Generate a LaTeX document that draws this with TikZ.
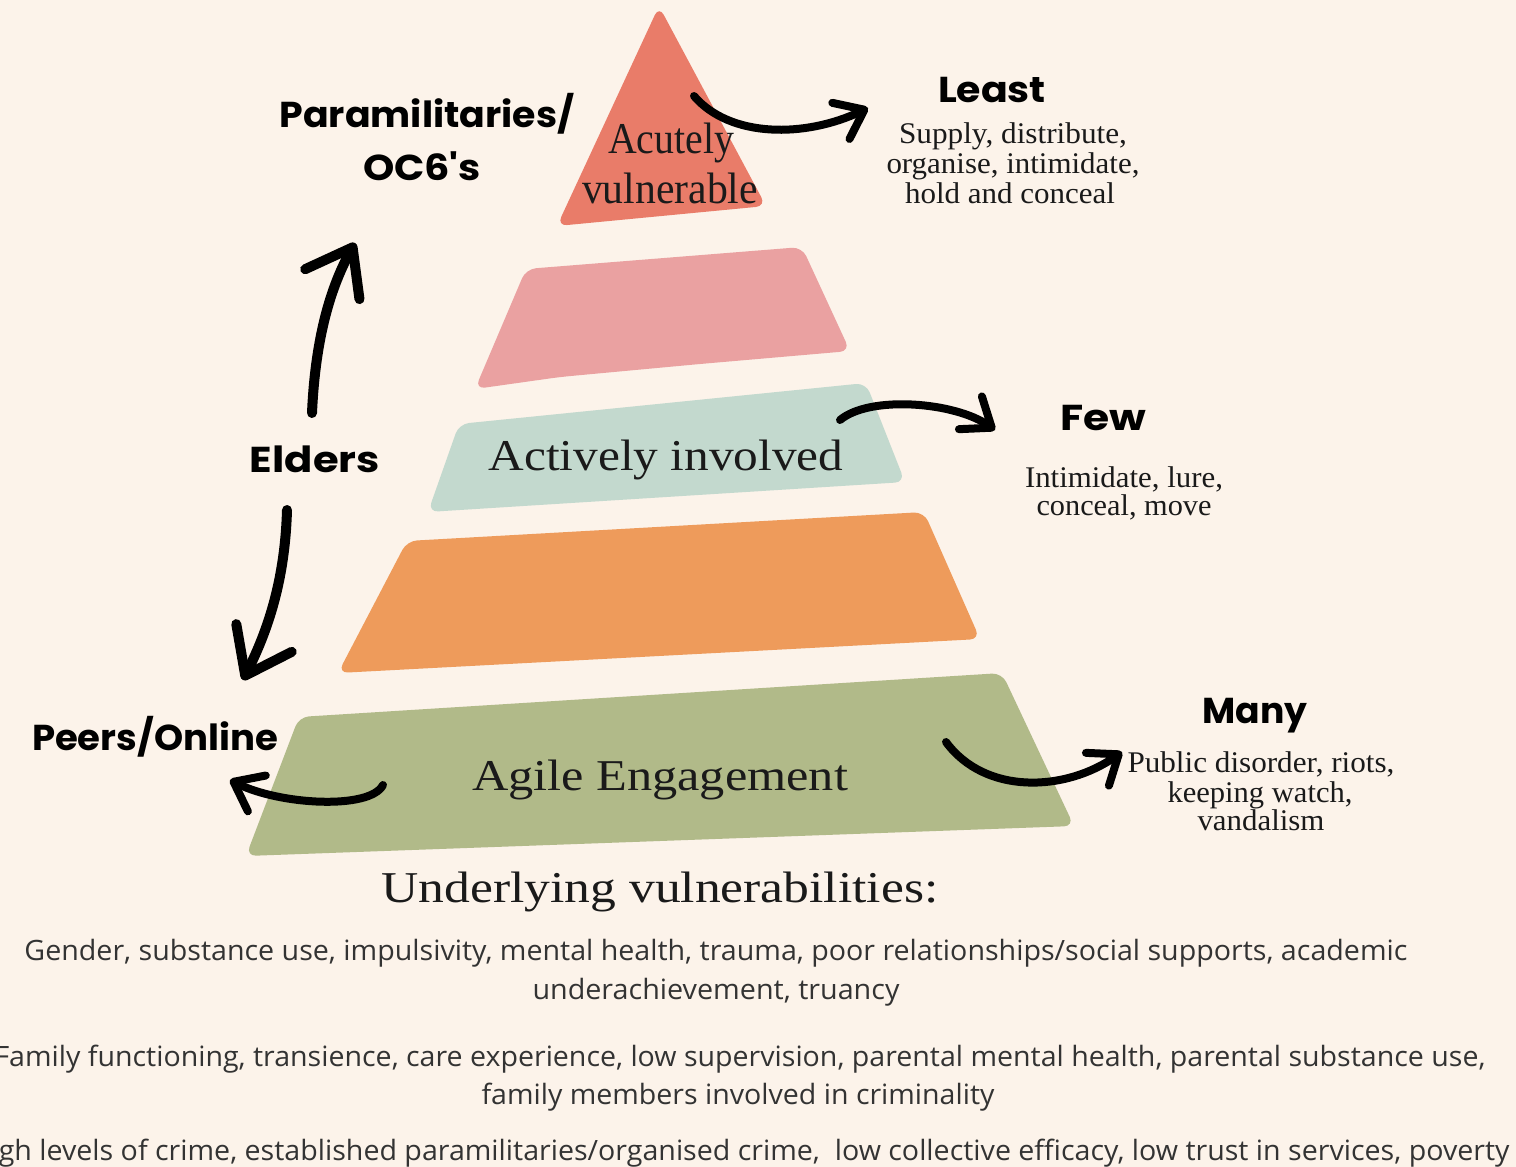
\documentclass[tikz,border=0pt]{standalone}
\usepackage{fontspec}
\usepackage{graphicx}
\setmainfont{Liberation Serif}
\newfontfamily\handfont{Poppins}
\newfontfamily\osans{Open Sans}
\usetikzlibrary{arrows.meta}
\newcommand\fitw[2]{\resizebox{#1}{\height}{#2}}
\definecolor{bgc}{HTML}{FCF3EA}
\definecolor{coralc}{HTML}{E97C69}
\definecolor{pinkc}{HTML}{EAA1A1}
\definecolor{mintc}{HTML}{C3D9CE}
\definecolor{orangec}{HTML}{EE9B5B}
\definecolor{olivec}{HTML}{B1BA89}
\definecolor{inkc}{HTML}{1A1A1A}
\definecolor{grayc}{HTML}{333333}
\begin{document}
\begin{tikzpicture}[x=1pt,y=-1pt,
  layer/.style={rounded corners=10pt},
  hw/.style={font=\handfont\bfseries\fontsize{36}{36}\selectfont, inner sep=0pt, anchor=base, text=black},
  sr/.style={font=\fontsize{30}{30}\selectfont, inner sep=0pt, anchor=base, text=inkc},
  big/.style={font=\fontsize{44}{44}\selectfont, inner sep=0pt, anchor=base, text=inkc},
  os/.style={font=\osans\fontsize{28}{28}\selectfont, inner sep=0pt, anchor=base, text=grayc},
  brush/.style={line width=8pt, line cap=round, -{Straight Barb[length=26pt,width=40pt,round]}},
  brushbig/.style={line width=10pt, line cap=round, -{Straight Barb[length=42pt,width=62pt,round]}}]
\fill[bgc] (0,0) rectangle (1516,1167);
\useasboundingbox (0,0) rectangle (1516,1167);
\begin{scope}
\clip (0,0) rectangle (1516,1167);
% pyramid layers
\fill[coralc, layer] (659,6) -- (766,206) -- (557,226) -- cycle;
\fill[pinkc, layer] (526,269) -- (802,247) -- (850,351) -- (700,364) -- (560,377) -- (475,389) -- cycle;
\fill[mintc, layer] (459,424) -- (866,383) -- (905,482) -- (428,512) -- cycle;
\fill[orangec, layer] (407,541) -- (924,512) -- (980,639) -- (338,673) -- cycle;
\fill[olivec, layer] (299,717) -- (1002,673) -- (1074,826) -- (246,856) -- cycle;

% layer labels
\node[big] (acute1) at (671,153) {\fitw{126pt}{Acutely}};
\node[big] (acute2) at (670,203) {\fitw{176pt}{vulnerable}};
\node[big] (active) at (666,470) {\fitw{355pt}{Actively involved}};
\node[big] (agile) at (660,790) {\fitw{376pt}{Agile Engagement}};
\node[big] (under) at (660,902) {\fitw{557pt}{Underlying vulnerabilities:}};

% handwritten labels
\node[hw] (para) at (427,127) {\fitw{295pt}{Paramilitaries/}};
\node[hw] (ocg) at (422,180) {\fitw{118pt}{OC6's}};
\node[hw] (least) at (992,102) {\fitw{108pt}{Least}};
\node[hw] (few) at (1103,430) {\fitw{86pt}{Few}};
\node[hw] (many) at (1255,723) {\fitw{105pt}{Many}};
\node[hw] (elders) at (315,472) {\fitw{130pt}{Elders}};
\node[hw] (peers) at (155,750) {\fitw{246pt}{Peers/Online}};

% right descriptions
\node[sr] (l1) at (1013,143) {\fitw{228pt}{Supply, distribute,}};
\node[sr] (l2) at (1013,173) {\fitw{253pt}{organise, intimidate,}};
\node[sr] (l3) at (1010,203) {\fitw{210pt}{hold and conceal}};
\node[sr] (f1) at (1124,487) {\fitw{198pt}{Intimidate, lure,}};
\node[sr] (f2) at (1124,515) {\fitw{175pt}{conceal, move}};
\node[sr] (m1) at (1261,772) {\fitw{267pt}{Public disorder, riots,}};
\node[sr] (m2) at (1260,802) {\fitw{185pt}{keeping watch,}};
\node[sr] (m3) at (1261,830) {\fitw{127pt}{vandalism}};

% bottom text
\node[os] (b1) at (716,960) {\fitw{1383pt}{Gender, substance use, impulsivity, mental health, trauma, poor relationships/social supports, academic}};
\node[os] (b2) at (716,999) {\fitw{367pt}{underachievement, truancy}};
\node[os] (b3) at (740,1066) {\fitw{1491pt}{Family functioning, transience, care experience, low supervision, parental mental health, parental substance use,}};
\node[os] (b4) at (738,1104) {\fitw{513pt}{family members involved in criminality}};
\node[os] (b5) at (740,1160) {\fitw{1539pt}{High levels of crime, established paramilitaries/organised crime,\ \ low collective efficacy, low trust in services, poverty}};

% arrow end points
\coordinate (a1s) at (694,96);
\coordinate (a1e) at (868,108);
\coordinate (a2s) at (840,420);
\coordinate (a2e) at (995,430);
\coordinate (a3s) at (946,742);
\coordinate (a3e) at (1122,752);
\coordinate (a4s) at (383,785);
\coordinate (a4e) at (230,780);
\coordinate (a5s) at (312,413);
\coordinate (a5e) at (355,243);
\coordinate (a6s) at (287,510);
\coordinate (a6e) at (243,680);

\draw[brush] (a1s) .. controls (730,138) and (805,138) .. (a1e);
\draw[brush] (a2s) .. controls (870,395) and (955,402) .. (a2e);
\draw[brush] (a3s) .. controls (985,795) and (1065,792) .. (a3e);
\draw[brush] (a4s) .. controls (370,810) and (280,805) .. (a4e);
\draw[brushbig] (a5s) .. controls (315,345) and (328,292) .. (a5e);
\draw[brushbig] (a6s) .. controls (285,580) and (268,630) .. (a6e);
\end{scope}
\end{tikzpicture}
\end{document}
